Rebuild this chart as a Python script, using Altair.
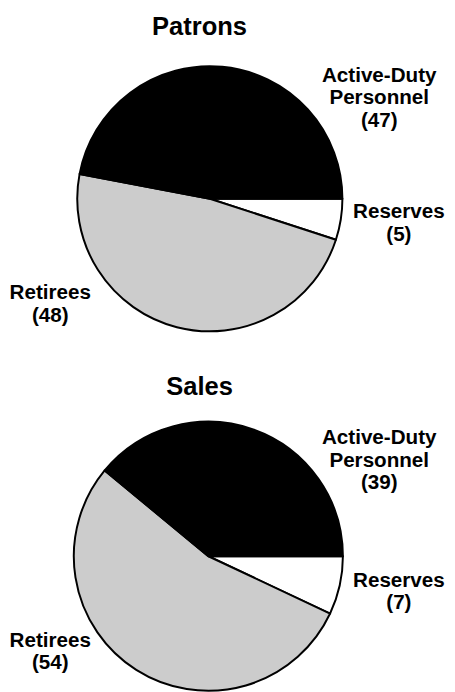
import math
import altair as alt
import pandas as pd

# ---- data ----
categories = ["Reserves", "Retirees", "Active-Duty Personnel"]
label_names = ["Reserves", "Retirees", "Active-Duty\nPersonnel"]
patrons = [5, 48, 47]
sales = [7, 54, 39]
titles = ["Patrons", "Sales"]

# ---- layout (pixels, chart coordinates) ----
W, H = 447, 684
centers = [(205.5, 188), (204, 552)]
radii = [135, 137]
title_pos = [(195, 21), (195, 388)]
# label anchor positions (first-line baseline) per category, per pie
label_pos = [
    [(398, 208), (43, 290), (378, 69)],
    [(398, 583), (43, 644), (378, 438)],
]

colors = ["#ffffff", "#cccccc", "#000000"]
FONT = "Liberation Sans"

layers = []
for p, (vals, title) in enumerate(zip([patrons, sales], titles)):
    cx, cy = centers[p]
    df = pd.DataFrame({
        "category": categories,
        "value": vals,
        "order": list(range(len(categories))),
    })
    arc = alt.Chart(df).mark_arc(
        radius=radii[p], stroke="#000000", strokeWidth=2, strokeJoin="round"
    ).encode(
        theta=alt.Theta("value:Q", stack=True,
                        scale=alt.Scale(range=[math.pi / 2, math.pi / 2 + 2 * math.pi])),
        order=alt.Order("order:Q", sort="ascending"),
        color=alt.Color("category:N", scale=alt.Scale(domain=categories, range=colors), legend=None),
        x=alt.value(cx),
        y=alt.value(cy),
    )
    layers.append(arc)

    ldf = pd.DataFrame({
        "text": [f"{n}\n({v})" for n, v in zip(label_names, vals)],
        "lx": [pt[0] for pt in label_pos[p]],
        "ly": [pt[1] for pt in label_pos[p]],
    })
    labels = alt.Chart(ldf).mark_text(
        font=FONT, fontSize=21, fontWeight="bold", align="center",
        baseline="alphabetic", lineBreak="\n", lineHeight=23, color="#000000"
    ).encode(
        x=alt.X("lx:Q", scale=None, axis=None),
        y=alt.Y("ly:Q", scale=None, axis=None),
        text="text:N",
    )
    layers.append(labels)

    tdf = pd.DataFrame({"t": [title], "tx": [title_pos[p][0]], "ty": [title_pos[p][1]]})
    ttl = alt.Chart(tdf).mark_text(
        font=FONT, fontSize=26, fontWeight="bold", align="center",
        baseline="alphabetic", color="#000000"
    ).encode(
        x=alt.X("tx:Q", scale=None, axis=None),
        y=alt.Y("ty:Q", scale=None, axis=None),
        text="t:N",
    )
    layers.append(ttl)

chart = alt.layer(*layers).resolve_scale(color="independent").properties(
    width=W, height=H, padding=0,
    autosize=alt.AutoSizeParams(type="none"),
).configure_view(stroke=None)

chart.save("out.html", embed_options={"renderer": "svg", "actions": False})
